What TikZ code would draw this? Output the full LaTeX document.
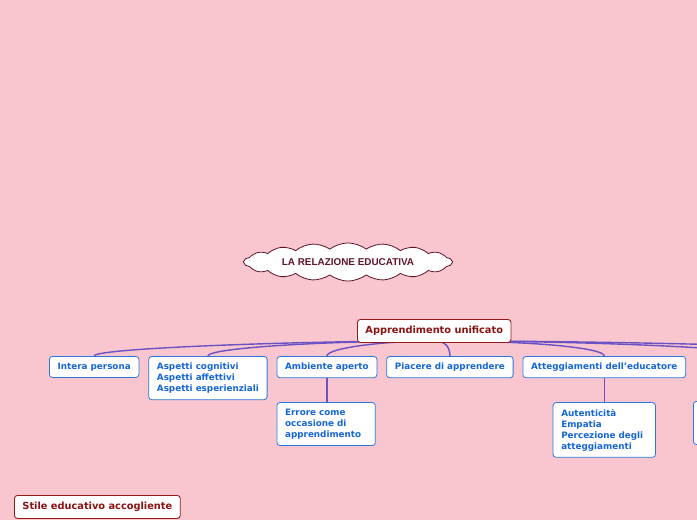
\documentclass[tikz,border=0pt]{standalone}
\usepackage{fontspec}
\setmainfont{DejaVu Sans}
\newfontfamily\cloudfont{Liberation Sans}
\usetikzlibrary{positioning,shapes.symbols,calc}
\definecolor{MapPink}{HTML}{F9C6D0}
\definecolor{MapBlue}{HTML}{2A78DE}
\definecolor{MapBlueText}{HTML}{1566D6}
\definecolor{MapRed}{HTML}{951B1B}
\definecolor{MapRedText}{HTML}{8C1111}
\definecolor{MapLine}{HTML}{6A52C4}
\definecolor{MapCloud}{HTML}{5E1426}
\pgfdeclarelayer{bg}
\pgfsetlayers{bg,main}

\begin{document}
\begin{tikzpicture}[x=1pt,y=-1pt,node distance=9pt]
  \tikzset{mainbox/.style={draw=MapRed,fill=white,rounded corners=3pt,line width=0.9pt,text=MapRedText,
      font=\fontsize{9.8}{12}\selectfont\bfseries,inner xsep=8pt,minimum height=23pt,anchor=north west},
    subbox/.style={draw=MapBlue,fill=white,rounded corners=3pt,line width=0.8pt,text=MapBlueText,
      font=\fontsize{8.8}{11}\selectfont\bfseries,inner xsep=8.2pt,inner ysep=6.4pt,align=left,anchor=north west},
    branch/.style={draw=MapLine,line width=1.4pt}}
  \useasboundingbox (0,0) rectangle (697,520);
  % central idea
  \node[cloud,cloud puffs=18,cloud puff arc=75,aspect=8,draw=MapCloud,fill=white,line width=0.8pt,
    inner xsep=8pt,inner ysep=0pt,text height=6pt,text depth=0pt,text=MapCloud,
    font=\cloudfont\fontsize{9.9}{11}\selectfont\bfseries] (c) at (348,262) {LA RELAZIONE EDUCATIVA};
  \node[mainbox] (u) at (357,319) {Apprendimento unificato};
  \node[mainbox] (s) at (14,495) {Stile educativo accogliente};
  % first level
  \node[subbox] (a1) at (49,356) {Intera persona};
  \node[subbox,right=of a1.north east,anchor=north west] (a2) {Aspetti cognitivi\\Aspetti affettivi\\Aspetti esperienziali};
  \node[subbox,right=of a2.north east,anchor=north west] (a3) {Ambiente aperto};
  \node[subbox,right=of a3.north east,anchor=north west] (a4) {Piacere di apprendere};
  \node[subbox,right=of a4.north east,anchor=north west] (a5) {Atteggiamenti dell'educatore};
  % second level
  \node[subbox,text width=82pt,below=24pt of a3.south west,anchor=north west] (b1) {Errore come\\occasione di\\apprendimento};
  \node[subbox,text width=86pt,below=24pt of a5.south,anchor=north] (b2) {Autenticità\\Empatia\\Percezione degli\\atteggiamenti};
  \node[subbox,minimum width=100pt,minimum height=43pt] (b3) at (693,401) {};
  \coordinate (r1) at (760,356);
  \coordinate (r2) at (900,356);
  \begin{pgfonlayer}{bg}
    \fill[MapPink] (0,0) rectangle (697,520);
    \coordinate (hub) at ($(u.south)+(0,-2)$);
    \draw[branch] (hub) .. controls +(-130,0) and +(0,-8) .. (a1.north);
    \draw[branch] (hub) .. controls +(-110,0) and +(0,-8) .. (a2.north);
    \draw[branch] (hub) .. controls +(-50,0) and +(0,-8) .. (a3.north);
    \draw[branch] (hub) .. controls +(12,0) and +(0,-8) .. (a4.north);
    \draw[branch] (hub) .. controls +(100,0) and +(0,-8) .. (a5.north);
    \draw[branch] (hub) .. controls +(150,0) and +(0,-8) .. (r1);
    \draw[branch] (hub) .. controls +(200,0) and +(0,-8) .. (r2);
    \draw[branch] (a3.south) -- (b1.north -| a3.south);
    \draw[branch] (a5.south) -- (b2.north);
  \end{pgfonlayer}
\end{tikzpicture}
\end{document}
